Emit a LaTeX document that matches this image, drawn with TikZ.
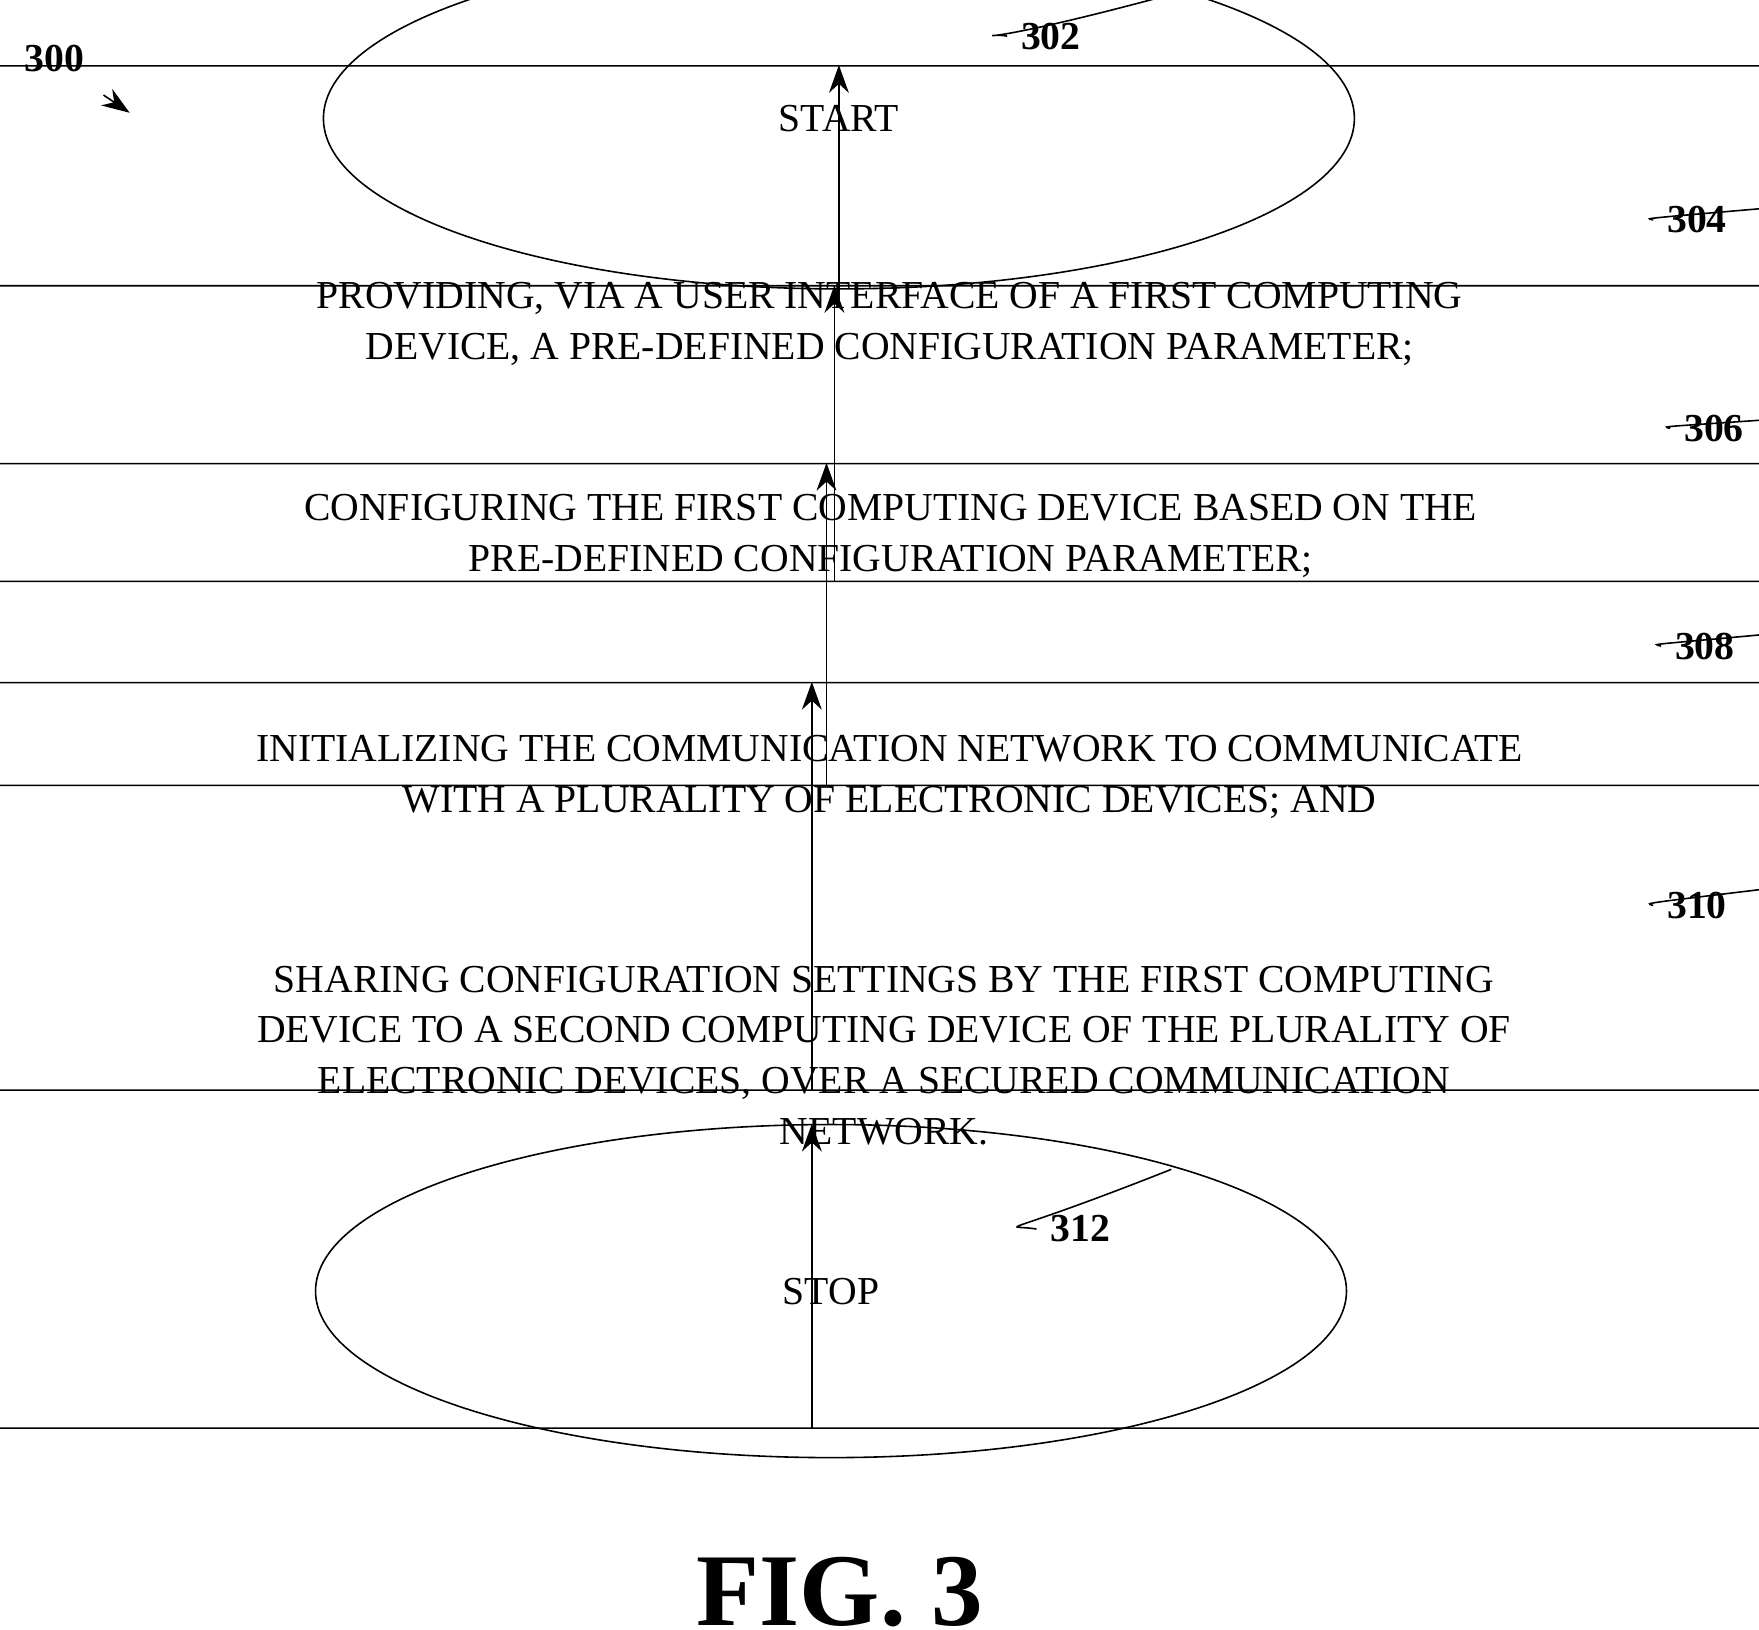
\documentclass[tikz,border=0pt]{standalone}
\usepackage{fontspec}
\setmainfont{Liberation Serif}
\usetikzlibrary{arrows.meta,shapes.geometric}
\begin{document}
\begin{tikzpicture}[x=0.01cm,y=-0.01cm,
  stage/.style={draw, rounded corners=14, align=center, font=\fontsize{10}{12.8}\selectfont},
  term/.style={draw, ellipse, minimum width=260, minimum height=86, inner sep=0pt, font=\fontsize{10}{12}\selectfont},
  ref/.style={font=\bfseries\fontsize{10}{12}\selectfont},
  flow/.style={-{Stealth[length=7pt,width=5pt]}}]
\useasboundingbox (0,0) rectangle (1560,1445);
% terminals
\node[term] (start) at (744,105) {START};
\node[term, minimum height=84] (stop) at (737,1145) {STOP};
% steps
\node[stage, minimum width=1258, minimum height=130] (s304) at (789,287)
  {PROVIDING, VIA A USER INTERFACE OF A FIRST COMPUTING\\DEVICE, A PRE-DEFINED CONFIGURATION PARAMETER;};
\node[stage, minimum width=1270, minimum height=126] (s306) at (790,475)
  {CONFIGURING THE FIRST COMPUTING DEVICE BASED ON THE\\PRE-DEFINED CONFIGURATION PARAMETER;};
\node[stage, minimum width=1258, minimum height=158] (s308) at (789,689)
  {INITIALIZING THE COMMUNICATION NETWORK TO COMMUNICATE\\WITH A PLURALITY OF ELECTRONIC DEVICES; AND};
\node[stage, minimum width=1258, minimum height=188] (s310) at (784,936)
  {SHARING CONFIGURATION SETTINGS BY THE FIRST COMPUTING\\DEVICE TO A SECOND COMPUTING DEVICE OF THE PLURALITY OF\\ELECTRONIC DEVICES, OVER A SECURED COMMUNICATION\\NETWORK.};
% flow
\draw[flow] (start.south) -- (start.south |- s304.north);
\draw[flow] (s304.south -| 740,0) -- (s306.north -| 740,0);
\draw[flow] (s306.south -| 733,0) -- (s308.north -| 733,0);
\draw[flow] (s308.south -| 720,0) -- (s310.north -| 720,0);
\draw[flow] (s310.south -| 720,0) -- (stop.north -| 720,0);
% reference numerals
\node[ref] (n300) at (48,52) {300};
\coordinate (p300) at (115,100);
\draw[flow] (n300.south east) ++(5,8) -- (p300);
\node[ref] (n302) at (932,32) {302};
\draw (start.north east) ++(-20,-5) .. controls (855,45) and (870,28) .. (n302.west);
\node[ref] (n304) at (1505,195) {304};
\draw (s304.north east) ++(-12,0) .. controls (1430,200) and (1450,192) .. (n304.west);
\node[ref] (n306) at (1520,380) {306};
\draw (s306.north east) ++(-5,0) .. controls (1445,390) and (1465,375) .. (n306.west);
\node[ref] (n308) at (1512,573) {308};
\draw (s308.north east) ++(-8,0) .. controls (1435,585) and (1455,568) .. (n308.west);
\node[ref] (n310) at (1505,803) {310};
\draw (s310.north east) ++(-12,0) .. controls (1430,812) and (1450,798) .. (n310.west);
\node[ref] (n312) at (958,1090) {312};
\draw (stop.north east) ++(-22,-3) .. controls (880,1100) and (890,1085) .. (n312.west);
% caption
\node[font=\bfseries\fontsize{26}{30}\selectfont] (fig) at (745,1412) {FIG. 3};
\end{tikzpicture}
\end{document}
